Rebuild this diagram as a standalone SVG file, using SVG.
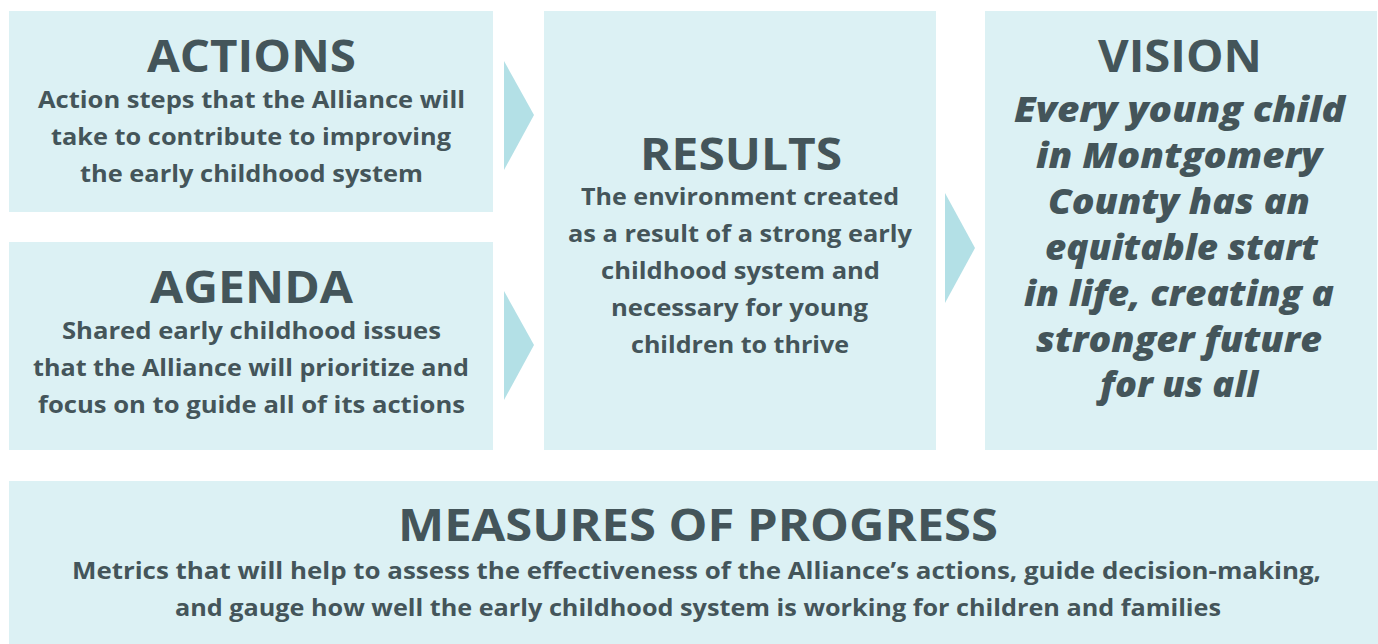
<svg xmlns="http://www.w3.org/2000/svg" width="1378" height="644" viewBox="0 0 1378 644">
<style>
.box{fill:#dcf1f4}
.arrow{fill:#b3e0e6}
text{fill:#44555a;font-family:"Open Sans","Liberation Sans",sans-serif;text-anchor:middle;font-weight:700}
.t{font-size:44px;font-weight:700}
.s{font-size:23px}
.v{font-size:35px;font-style:italic;font-weight:800}
</style>
<rect width="1378" height="644" fill="#ffffff"/>
<g id="connectors">
<polygon class="arrow" points="504,61 534,115 504,170"/>
<polygon class="arrow" points="504,291 534,345 504,400"/>
<polygon class="arrow" points="945,193 975,248 945,303"/>
</g>
<g id="actions">
<rect class="box" x="9" y="11" width="484" height="201"/>
<text class="t" x="251.5" y="72" textLength="209" lengthAdjust="spacingAndGlyphs">ACTIONS</text>
<text class="s" x="251.5" y="108" textLength="427" lengthAdjust="spacingAndGlyphs">Action steps that the Alliance will</text>
<text class="s" x="251" y="145" textLength="400" lengthAdjust="spacingAndGlyphs">take to contribute to improving</text>
<text class="s" x="251.5" y="182" textLength="343" lengthAdjust="spacingAndGlyphs">the early childhood system</text>
</g>
<g id="agenda">
<rect class="box" x="9" y="242" width="484" height="208"/>
<text class="t" x="251.5" y="303" textLength="203" lengthAdjust="spacingAndGlyphs">AGENDA</text>
<text class="s" x="251.5" y="339" textLength="379" lengthAdjust="spacingAndGlyphs">Shared early childhood issues</text>
<text class="s" x="251" y="376" textLength="436" lengthAdjust="spacingAndGlyphs">that the Alliance will prioritize and</text>
<text class="s" x="251.5" y="413" textLength="427" lengthAdjust="spacingAndGlyphs">focus on to guide all of its actions</text>
</g>
<g id="results">
<rect class="box" x="544" y="11" width="392" height="439"/>
<text class="t" x="741" y="170" textLength="202" lengthAdjust="spacingAndGlyphs">RESULTS</text>
<text class="s" x="740" y="205" textLength="318" lengthAdjust="spacingAndGlyphs">The environment created</text>
<text class="s" x="740" y="242" textLength="344" lengthAdjust="spacingAndGlyphs">as a result of a strong early</text>
<text class="s" x="740.5" y="279" textLength="279" lengthAdjust="spacingAndGlyphs">childhood system and</text>
<text class="s" x="739.5" y="316" textLength="257" lengthAdjust="spacingAndGlyphs">necessary for young</text>
<text class="s" x="740" y="353" textLength="218" lengthAdjust="spacingAndGlyphs">children to thrive</text>
</g>
<g id="vision">
<rect class="box" x="985" y="11" width="392" height="439"/>
<text class="t" x="1180" y="72" textLength="164" lengthAdjust="spacingAndGlyphs">VISION</text>
<text class="v" x="1179.5" y="122" textLength="331" lengthAdjust="spacingAndGlyphs">Every young child</text>
<text class="v" x="1179" y="168" textLength="286" lengthAdjust="spacingAndGlyphs">in Montgomery</text>
<text class="v" x="1179" y="214" textLength="262" lengthAdjust="spacingAndGlyphs">County has an</text>
<text class="v" x="1181.5" y="260" textLength="273" lengthAdjust="spacingAndGlyphs">equitable start</text>
<text class="v" x="1179" y="306" textLength="310" lengthAdjust="spacingAndGlyphs">in life, creating a</text>
<text class="v" x="1179" y="352" textLength="286" lengthAdjust="spacingAndGlyphs">stronger future</text>
<text class="v" x="1179" y="397" textLength="158" lengthAdjust="spacingAndGlyphs">for us all</text>
</g>
<g id="measures">
<rect class="box" x="9" y="481" width="1369" height="163"/>
<text class="t" x="698" y="541" textLength="600" lengthAdjust="spacingAndGlyphs">MEASURES OF PROGRESS</text>
<text class="s" x="696.5" y="579" textLength="1249" lengthAdjust="spacingAndGlyphs">Metrics that will help to assess the effectiveness of the Alliance’s actions, guide decision-making,</text>
<text class="s" x="698" y="616" textLength="1046" lengthAdjust="spacingAndGlyphs">and gauge how well the early childhood system is working for children and families</text>
</g>
</svg>
